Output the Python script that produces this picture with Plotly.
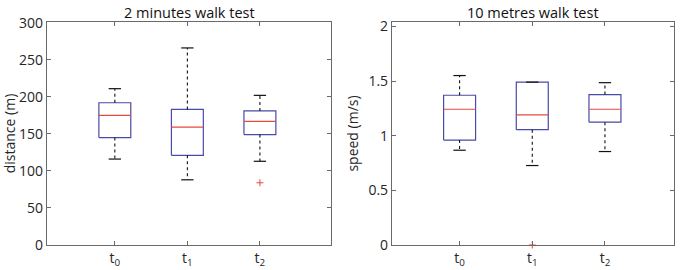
import plotly.graph_objects as go

categories = ["t<sub>0</sub>", "t<sub>1</sub>", "t<sub>2</sub>"]

# 2 minutes walk test (distance, m)
dist_lower = [116, 88, 113]
dist_q1 = [145, 121, 149]
dist_median = [175, 159, 167]
dist_q3 = [192, 183, 181]
dist_upper = [211, 266, 202]
dist_outliers = [[], [], [84]]

# 10 metres walk test (speed, m/s)
speed_lower = [0.867, 0.727, 0.855]
speed_q1 = [0.96, 1.055, 1.124]
speed_median = [1.242, 1.19, 1.242]
speed_q3 = [1.37, 1.49, 1.376]
speed_upper = [1.55, 1.49, 1.485]
speed_outliers = [[], [0.0], []]

BOX_HALF = 0.22
CAP_HALF = 0.085
BLUE = "#4a4aa8"
RED = "#e8483c"
BLACK = "#111111"

fig = go.Figure()


def add_panel(xa, ya, lower, q1, med, q3, upper, outl):
    for i in range(len(categories)):
        x = i + 1
        fig.add_trace(go.Scatter(
            x=[x - BOX_HALF, x + BOX_HALF, x + BOX_HALF, x - BOX_HALF, x - BOX_HALF],
            y=[q1[i], q1[i], q3[i], q3[i], q1[i]],
            mode="lines", line=dict(color=BLUE, width=1.2),
            xaxis=xa, yaxis=ya, showlegend=False, hoverinfo="skip"))
        fig.add_trace(go.Scatter(
            x=[x - BOX_HALF, x + BOX_HALF], y=[med[i], med[i]],
            mode="lines", line=dict(color=RED, width=1.2),
            xaxis=xa, yaxis=ya, showlegend=False, hoverinfo="skip"))
        fig.add_trace(go.Scatter(
            x=[x, x, None, x, x], y=[q3[i], upper[i], None, q1[i], lower[i]],
            mode="lines", line=dict(color=BLACK, width=1.1, dash="dot"),
            xaxis=xa, yaxis=ya, showlegend=False, hoverinfo="skip"))
        fig.add_trace(go.Scatter(
            x=[x - CAP_HALF, x + CAP_HALF, None, x - CAP_HALF, x + CAP_HALF],
            y=[upper[i], upper[i], None, lower[i], lower[i]],
            mode="lines", line=dict(color=BLACK, width=1.2),
            xaxis=xa, yaxis=ya, showlegend=False, hoverinfo="skip"))
        if outl[i]:
            fig.add_trace(go.Scatter(
                x=[x] * len(outl[i]), y=outl[i], mode="markers",
                marker=dict(symbol="cross-thin", size=5,
                            line=dict(color=RED, width=1)),
                cliponaxis=False,
                xaxis=xa, yaxis=ya, showlegend=False, hoverinfo="skip"))


add_panel("x", "y", dist_lower, dist_q1, dist_median, dist_q3, dist_upper, dist_outliers)
add_panel("x2", "y2", speed_lower, speed_q1, speed_median, speed_q3, speed_upper, speed_outliers)

FONT = "Open Sans"
axis_common = dict(
    showline=True, linecolor="#6a6a6a", linewidth=1.2, mirror="ticks",
    ticks="inside", ticklen=4, tickcolor="#6a6a6a", showgrid=False, zeroline=False,
    automargin=False,
    tickfont=dict(family=FONT, size=14, color="#262626"),
)

fig.update_layout(
    width=680, height=270,
    margin=dict(l=0, r=0, t=0, b=0, autoexpand=False),
    paper_bgcolor="white", plot_bgcolor="white",
    font=dict(family=FONT, size=14, color="#262626"),
    xaxis=dict(domain=[47 / 680, 331 / 680], range=[0.065, 3.98],
               tickvals=[1, 2, 3], ticktext=categories, anchor="y", **axis_common),
    yaxis=dict(domain=[25 / 270, 248 / 270], range=[0, 301], tickvals=[0, 50, 100, 150, 200, 250, 300],
               anchor="x", title=dict(text="distance (m)", standoff=6,
                                       font=dict(family=FONT, size=14)), **axis_common),
    xaxis2=dict(domain=[392 / 680, 674 / 680], range=[0.07, 3.95],
                tickvals=[1, 2, 3], ticktext=categories, anchor="y2", **axis_common),
    yaxis2=dict(domain=[25 / 270, 248 / 270], range=[0, 2.04], tickvals=[0, 0.5, 1, 1.5, 2],
                ticktext=["0", "0.5", "1", "1.5", "2"],
                anchor="x2", title=dict(text="speed (m/s)", standoff=6,
                                        font=dict(family=FONT, size=14)), **axis_common),
    annotations=[
        dict(text="2 minutes walk test", x=189 / 680, y=1.0 - 1 / 270, xref="paper", yref="paper",
             xanchor="center", yanchor="top", showarrow=False,
             font=dict(family=FONT, size=14.5, color="#111111")),
        dict(text="10 metres walk test", x=533 / 680, y=1.0 - 1 / 270, xref="paper", yref="paper",
             xanchor="center", yanchor="top", showarrow=False,
             font=dict(family=FONT, size=14.5, color="#111111")),
    ],
)

fig.write_html("out.html", config={"displayModeBar": False},
               post_script="document.body.style.margin='0';document.body.style.padding='0';")
